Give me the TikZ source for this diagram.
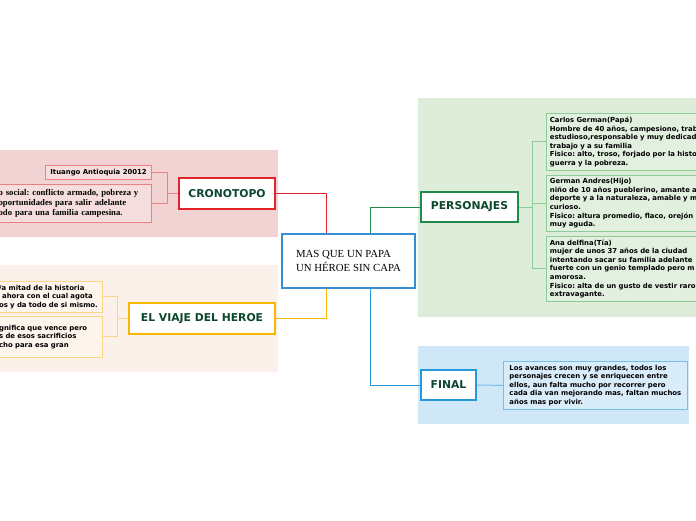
\documentclass[tikz,border=0pt]{standalone}
\usepackage{fontspec}
\setmainfont{Liberation Serif}
\setsansfont{DejaVu Sans}
\frenchspacing
\definecolor{cronobg}{RGB}{242,211,211}
\definecolor{cronored}{RGB}{226,35,42}
\definecolor{cronoline}{RGB}{240,128,128}
\definecolor{crononote}{RGB}{247,222,222}
\definecolor{viajebg}{RGB}{252,240,235}
\definecolor{viajeor}{RGB}{246,183,0}
\definecolor{viajeline}{RGB}{252,214,130}
\definecolor{viajenote}{RGB}{253,244,236}
\definecolor{persbg}{RGB}{221,237,218}
\definecolor{persgreen}{RGB}{31,138,74}
\definecolor{persline}{RGB}{140,204,150}
\definecolor{persnote}{RGB}{226,241,223}
\definecolor{finalbg}{RGB}{208,231,248}
\definecolor{finalblue}{RGB}{39,152,222}
\definecolor{finalline}{RGB}{120,190,235}
\definecolor{finalnote}{RGB}{216,236,250}
\definecolor{centralblue}{RGB}{55,142,210}
\definecolor{titlegreen}{RGB}{12,70,45}
\begin{document}
\frenchspacing
\begin{tikzpicture}[x=1pt,y=-1pt,
    topic/.style={draw,line width=2pt,fill=white,inner sep=0pt,text=titlegreen,
      font=\sffamily\bfseries\fontsize{10.8}{12}\selectfont},
    note/.style={draw,line width=0.8pt,inner xsep=3.5pt,inner ysep=0pt,align=left,
      font=\sffamily\bfseries\fontsize{6.9}{8.6}\selectfont}]
  \useasboundingbox (0,0) rectangle (696,520);
  \clip (0,0) rectangle (696,520);
  % backgrounds
  \fill[cronobg] (0,150) rectangle (278,237);
  \fill[viajebg] (0,265) rectangle (278,372);
  \fill[persbg] (418,98) rectangle (696,317);
  \fill[finalbg] (418,346) rectangle (689,424);
  % main topic
  \node[draw=centralblue,line width=1.5pt,fill=white,minimum width=133,minimum height=54,
    align=left,font=\fontsize{10.8}{14}\selectfont] (central) at (348.5,261)
    {MAS QUE UN PAPA\\UN HÉROE SIN CAPA};
  \node[topic,draw=cronored,minimum width=96,minimum height=31] (crono) at (227,193.5) {CRONOTOPO};
  \node[topic,draw=viajeor,minimum width=146,minimum height=31] (viaje) at (202,318.5) {EL VIAJE DEL HEROE};
  \node[topic,draw=persgreen,minimum width=97,minimum height=30] (pers) at (469.5,207) {PERSONAJES};
  \node[topic,draw=finalblue,minimum width=55,minimum height=30] (final) at (448.5,385) {FINAL};
  % cronotopo notes
  \node[note,draw=cronoline,fill=crononote,anchor=north east,minimum width=106,minimum height=14,
    inner xsep=0pt] (ituango) at (152,165) {Ituango Antioquia 20012};
  \node[note,draw=cronoline,fill=crononote,anchor=north east,minimum height=38,text width=150,
    inner xsep=3pt,font=\bfseries\fontsize{8.7}{10}\selectfont] (contexto) at (152,184)
    {o social: conflicto armado, pobreza y\\oportunidades para salir adelante\\odo para una familia campesina.};
  % viaje notes
  \node[note,draw=viajeline,fill=viajenote,anchor=north east,minimum height=31,text width=100] (mitad) at (103,281)
    {/a mitad de la historia\\\hspace*{3pt}ahora con el cual agota\\os y da todo de si mismo.};
  \node[note,draw=viajeline,fill=viajenote,anchor=north east,minimum height=41,text width=100] (vence) at (103,316)
    {gnifica que vence pero\\s de esos sacrificios\\cho para esa gran\\[6pt]};
  % personajes notes
  \node[note,draw=persline,fill=persnote,anchor=north west,minimum height=57,text width=200] (carlos) at (546,113)
    {Carlos German(Papá)\\Hombre de 40 años, campesiono, trab\\estudioso,responsable y muy dedicad\\trabajo y a su familia\\Fisico: alto, troso, forjado por la histo\\guerra y la pobreza.};
  \node[note,draw=persline,fill=persnote,anchor=north west,minimum height=56,text width=200] (german) at (546,175)
    {German Andres(Hijo)\\niño de 10 años pueblerino, amante a\\deporte y a la naturaleza, amable y m\\curioso.\\Fisico: altura promedio, flaco, orejón\\muy aguda.};
  \node[note,draw=persline,fill=persnote,anchor=north west,minimum height=65,text width=200] (ana) at (546,236)
    {Ana delfina(Tía)\\mujer de unos 37 años de la ciudad\\intentando sacar su familia adelante\\fuerte con un genio templado pero m\\amorosa.\\Fisico: alta de un gusto de vestir raro\\extravagante.};
  % final note
  \node[note,draw=finalline,fill=finalnote,anchor=north west,minimum height=48,minimum width=184] (avances) at (503,361)
    {Los avances son muy grandes, todos los\\personajes crecen y se enriquecen entre\\ellos, aun falta mucho por recorrer pero\\cada dia van mejorando mas, faltan muchos\\años mas por vivir.};
  % connectors
  \draw[cronored,line width=1pt] (crono.east) -| ([xshift=-22]central.north);
  \draw[viajeor,line width=1pt] (viaje.east) -| ([xshift=-22]central.south);
  \draw[persgreen,line width=1pt] ([xshift=22]central.north) |- (pers.west);
  \draw[finalblue,line width=1pt] ([xshift=22]central.south) |- (final.west);
  \foreach \b in {ituango,contexto}
    \draw[cronoline,line width=1pt] (crono.west) -- ++(-11,0) |- (\b.east);
  \foreach \b in {mitad,vence}
    \draw[viajeline,line width=1pt] (viaje.west) -- ++(-11,0) |- (\b.east);
  \foreach \b in {carlos,german,ana}
    \draw[persline,line width=1pt] (pers.east) -- ++(13,0) |- (\b.west);
  \draw[finalline,line width=1pt] (final.east) -- (avances.west);
\end{tikzpicture}
\end{document}
